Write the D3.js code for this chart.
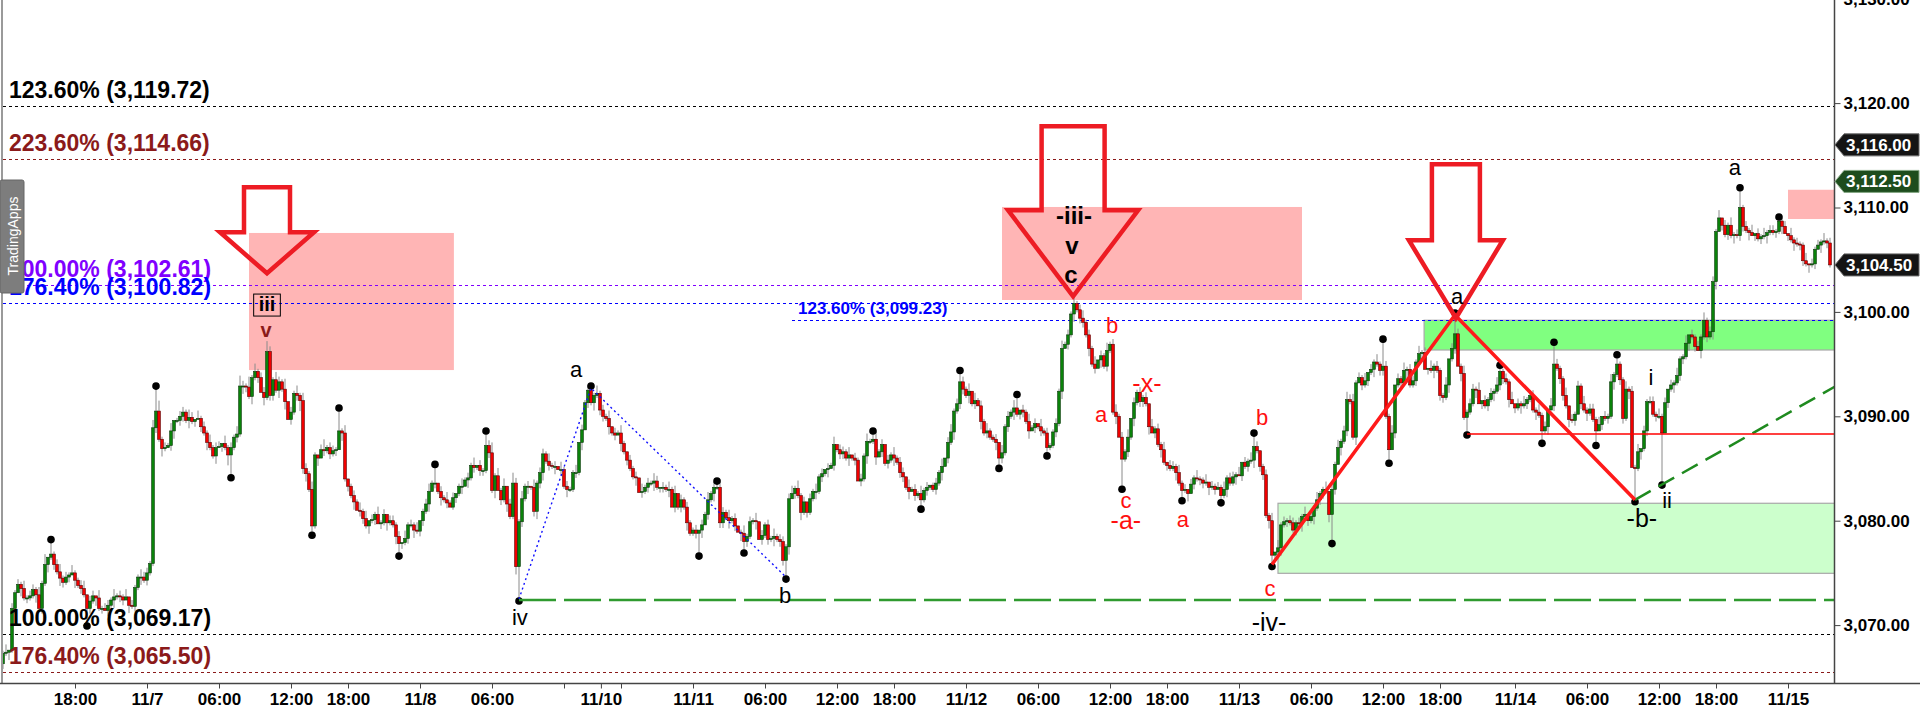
<!DOCTYPE html>
<html>
<head>
<meta charset="utf-8">
<script src="https://d3js.org/d3.v7.min.js"></script>
<style>
body { margin: 0; background: #fff; overflow: hidden; }
svg { display: block; font-family: "Liberation Sans", Arial, sans-serif; }
</style>
</head>
<body>
<svg id="chart" width="1920" height="710"></svg>
<script>
// 15 minute bars, 11/6 12:00 .. 11/15 03:45, closes
var firstOpen = 3066.3;
var closes = [
  3067.3, 3067.4, 3067.6, 3071.6, 3073.1, 3073.9, 3073.5, 3072.6, 3072.6, 3072.8,
  3073.4, 3072.9, 3071.6, 3074.0, 3075.8, 3076.5, 3076.8, 3075.8, 3075.1, 3074.5,
  3074.1, 3074.6, 3074.8, 3075.0, 3074.3, 3073.8, 3073.5, 3072.9, 3071.6, 3072.3,
  3072.8, 3072.6, 3071.6, 3071.6, 3071.4, 3071.9, 3072.4, 3072.7, 3072.8, 3072.7,
  3072.4, 3072.7, 3071.9, 3071.8, 3073.6, 3074.6, 3074.6, 3074.3, 3075.0, 3075.9,
  3088.9, 3090.5, 3087.8, 3086.9, 3087.0, 3087.2, 3088.6, 3089.6, 3089.6, 3090.0,
  3090.4, 3089.6, 3089.9, 3089.5, 3089.7, 3089.8, 3089.0, 3088.4, 3087.5, 3087.0,
  3086.2, 3087.0, 3087.1, 3087.4, 3087.0, 3086.3, 3087.0, 3088.0, 3088.3, 3092.9,
  3092.9, 3092.8, 3091.9, 3093.7, 3094.3, 3093.7, 3092.3, 3091.8, 3096.2, 3092.0,
  3093.5, 3092.5, 3093.3, 3092.6, 3091.4, 3089.7, 3090.4, 3092.2, 3092.0, 3091.5,
  3085.0, 3084.5, 3083.0, 3079.5, 3086.3, 3086.0, 3086.8, 3086.7, 3087.0, 3086.4,
  3086.7, 3086.8, 3088.6, 3088.4, 3084.0, 3083.3, 3082.4, 3081.8, 3081.0, 3080.9,
  3080.2, 3079.5, 3080.0, 3080.1, 3080.6, 3079.7, 3079.8, 3080.6, 3079.8, 3080.0,
  3079.6, 3078.5, 3077.8, 3077.9, 3078.3, 3079.6, 3079.6, 3079.1, 3079.0, 3080.0,
  3080.9, 3081.6, 3082.8, 3083.6, 3083.6, 3082.8, 3082.2, 3082.0, 3081.7, 3081.3,
  3082.2, 3082.6, 3083.3, 3083.3, 3083.9, 3084.1, 3085.3, 3085.1, 3085.3, 3084.8,
  3084.8, 3087.2, 3086.5, 3082.9, 3084.3, 3082.9, 3082.0, 3083.3, 3081.6, 3080.4,
  3083.6, 3075.6, 3079.9, 3082.1, 3083.3, 3083.3, 3083.2, 3080.9, 3083.6, 3084.6,
  3086.4, 3085.7, 3085.3, 3085.2, 3085.2, 3084.9, 3084.9, 3083.3, 3083.0, 3083.0,
  3084.6, 3084.6, 3087.5, 3088.7, 3091.3, 3092.5, 3091.3, 3092.0, 3092.2, 3090.6,
  3090.0, 3089.8, 3089.0, 3088.4, 3088.2, 3088.4, 3087.4, 3086.6, 3085.8, 3085.0,
  3084.2, 3084.1, 3082.7, 3082.8, 3083.2, 3083.6, 3083.6, 3083.8, 3083.2, 3083.2,
  3083.2, 3083.0, 3083.0, 3081.3, 3082.6, 3081.3, 3082.0, 3081.3, 3079.8, 3078.8,
  3079.1, 3078.8, 3079.1, 3079.6, 3080.6, 3082.0, 3082.6, 3083.2, 3083.2, 3079.8,
  3080.8, 3080.3, 3080.0, 3080.2, 3079.5, 3078.9, 3078.8, 3078.0, 3078.5, 3079.9,
  3080.0, 3079.9, 3078.2, 3078.6, 3079.6, 3078.2, 3078.3, 3078.5, 3078.2, 3078.0,
  3076.2, 3077.5, 3082.1, 3082.6, 3083.1, 3082.4, 3080.8, 3081.8, 3080.8, 3082.1,
  3082.8, 3082.8, 3084.2, 3084.5, 3084.9, 3085.0, 3085.3, 3087.3, 3086.8, 3086.4,
  3086.6, 3086.0, 3086.3, 3086.0, 3085.8, 3083.8, 3084.0, 3086.2, 3087.6, 3087.6,
  3087.8, 3086.1, 3086.6, 3087.3, 3085.5, 3085.8, 3086.3, 3086.0, 3085.6, 3084.6,
  3084.2, 3083.2, 3082.8, 3083.0, 3082.4, 3082.6, 3082.0, 3082.9, 3083.2, 3083.4,
  3083.0, 3083.6, 3084.6, 3085.2, 3086.0, 3087.5, 3088.5, 3090.5, 3091.2, 3093.3,
  3092.6, 3092.0, 3092.4, 3091.2, 3091.5, 3091.0, 3089.5, 3088.4, 3088.6, 3088.0,
  3087.8, 3087.5, 3086.0, 3086.5, 3089.0, 3090.0, 3090.4, 3090.8, 3090.2, 3090.6,
  3090.4, 3089.5, 3088.6, 3088.9, 3089.3, 3089.0, 3088.6, 3088.4, 3087.0, 3087.2,
  3088.5, 3089.3, 3092.4, 3096.5, 3096.9, 3097.8, 3099.8, 3100.8, 3100.2, 3099.4,
  3099.0, 3097.8, 3096.5, 3095.0, 3094.6, 3095.4, 3095.8, 3094.8, 3096.3, 3096.9,
  3090.4, 3090.0, 3088.0, 3085.9, 3086.6, 3088.0, 3089.8, 3091.3, 3092.3, 3091.4,
  3091.8, 3091.2, 3089.0, 3088.4, 3088.8, 3087.3, 3086.8, 3085.6, 3085.3, 3085.0,
  3085.2, 3084.6, 3083.6, 3082.9, 3083.0, 3082.6, 3083.5, 3084.1, 3084.0, 3083.9,
  3083.6, 3083.7, 3083.2, 3083.3, 3083.0, 3083.2, 3082.4, 3083.0, 3084.1, 3083.6,
  3084.2, 3084.4, 3084.3, 3085.6, 3085.2, 3085.7, 3085.8, 3087.1, 3086.7, 3085.2,
  3084.4, 3080.5, 3080.0, 3076.7, 3077.0, 3077.4, 3079.6, 3079.9, 3080.0, 3079.8,
  3079.1, 3079.8, 3079.7, 3080.4, 3080.6, 3080.0, 3080.4, 3081.2, 3082.0, 3082.6,
  3083.0, 3082.8, 3080.6, 3083.0, 3085.4, 3087.0, 3087.6, 3088.6, 3091.6, 3091.4,
  3088.0, 3093.2, 3093.7, 3093.0, 3093.4, 3094.2, 3094.5, 3095.2, 3095.0, 3094.4,
  3094.8, 3090.0, 3086.8, 3088.4, 3093.0, 3093.6, 3093.2, 3094.4, 3094.5, 3093.0,
  3093.4, 3095.2, 3096.0, 3096.1, 3094.5, 3094.6, 3094.4, 3094.8, 3094.4, 3092.0,
  3091.8, 3093.0, 3095.5, 3096.5, 3097.9, 3094.8, 3094.1, 3089.9, 3090.4, 3091.2,
  3092.6, 3092.5, 3091.2, 3091.5, 3091.0, 3091.6, 3092.2, 3092.4, 3093.0, 3094.3,
  3093.6, 3093.3, 3091.6, 3091.2, 3090.8, 3091.2, 3091.0, 3091.2, 3091.6, 3092.0,
  3090.6, 3090.4, 3090.1, 3088.6, 3089.0, 3090.6, 3091.0, 3095.0, 3094.6, 3093.6,
  3092.0, 3091.0, 3089.7, 3089.6, 3090.2, 3092.9, 3091.2, 3090.6, 3090.3, 3090.7,
  3089.7, 3088.6, 3089.2, 3090.0, 3089.8, 3090.0, 3093.3, 3094.0, 3095.0, 3093.5,
  3089.8, 3092.6, 3092.4, 3085.1, 3085.0, 3086.6, 3086.9, 3088.6, 3091.4, 3091.4,
  3090.2, 3090.0, 3090.0, 3088.4, 3091.3, 3092.6, 3093.0, 3093.2, 3093.9, 3095.5,
  3095.7, 3097.0, 3097.8, 3097.6, 3096.7, 3096.3, 3097.6, 3099.2, 3097.6, 3098.1,
  3102.9, 3107.7, 3109.0, 3108.3, 3107.4, 3108.3, 3107.3, 3107.4, 3107.3, 3110.0,
  3108.2, 3107.8, 3107.6, 3107.3, 3107.5, 3107.0, 3107.2, 3107.3, 3107.6, 3107.8,
  3107.6, 3107.7, 3108.7, 3108.2, 3107.5, 3107.3, 3106.9, 3106.6, 3106.5, 3106.4,
  3104.9, 3104.6, 3104.5, 3104.6, 3106.0, 3106.4, 3106.7, 3106.8, 3106.6, 3104.5
];
// wick lengths above / below the body, in quarter points, one character a bar
var wickUp = [
  "1302121312", "2131402123", "1213112302", "2031221312", "1302113221",
  "3241213012", "2132031213", "1220312134", "2141312242", "1321402131",
  "3213102412", "2121301213", "1302131202", "2120312130", "1231202131",
  "2013121302", "1224131302", "4213120312", "2131203121", "1302122131",
  "2130213102", "1203121320", "2131302121", "1202131223", "2131201312",
  "1302121312", "2123131202", "1312021302", "2130212131", "1312021312",
  "2031213120", "1213023121", "2130312131", "1203121320", "2131203121",
  "1213121312", "3121302131", "2312130212", "1203121302", "2131202131",
  "1302121312", "2130213120", "1213031212", "2121302131", "1302131232",
  "3121302131", "1213021312", "2131203121", "1302121312", "2130212131",
  "1213021312", "2131203121", "1302121312", "2130213121", "1312130212",
  "2131202131", "1302121312", "2130213121", "1213021312", "2131203121",
  "1302121312"
].join("");
var wickDn = [
  "2131203121", "1302131213", "2120312132", "1312021312", "2031213121",
  "1213102312", "2131202131", "1302143121", "3213120312", "2131302124",
  "2312130212", "1203121302", "2131202131", "1302121312", "2130213120",
  "1213031212", "2121302131", "1302131232", "3121302131", "1213021312",
  "2131203121", "1302121312", "2130212131", "1213021312", "2131203121",
  "1302121312", "2130213121", "1312130212", "2131202131", "1302121312",
  "2130213121", "1213021312", "2131203121", "1302121312", "2130212131",
  "1213021312", "2131203121", "1302121312", "2130213121", "1312130212",
  "2131202131", "1302121312", "2130213121", "1213021312", "2131203121",
  "1302121312", "2130212131", "1213021312", "2131203121", "1302121312",
  "2130213121", "1312130212", "2131202131", "1302121312", "2130213121",
  "1213021312", "2131203121", "3302121312", "2130212131", "1213021312",
  "2131203121"
].join("");

// swing points marked with a dot: [bar, price]
var swingHighs = [[16, 3078.0], [51, 3092.7], [112, 3090.6], [144, 3085.2], [161, 3088.4],
  [196, 3092.7], [238, 3083.6], [290, 3088.4], [319, 3094.2], [338, 3091.9], [417, 3088.2],
  [460, 3097.2], [484, 3099.7], [499, 3094.7], [517, 3096.9], [538, 3095.7], [579, 3111.7], [592, 3108.9]];
var swingLows = [[28, 3070.1], [76, 3084.3], [103, 3078.8], [132, 3076.8], [172, 3072.5],
  [232, 3076.8], [247, 3077.1], [261, 3074.6], [306, 3081.3], [332, 3085.2], [348, 3086.4],
  [373, 3083.2], [393, 3082.1], [406, 3081.9], [423, 3075.8], [443, 3078.0], [462, 3085.7],
  [488, 3088.4], [513, 3087.6], [531, 3087.4], [544, 3082.0], [553, 3083.6]];

var fibLevels = [
  ["123.60% (3,119.72)", 3119.72, "k"],
  ["223.60% (3,114.66)", 3114.66, "m"],
  ["100.00% (3,102.61)", 3102.61, "p"],
  ["176.40% (3,100.82)", 3100.82, "b"],
  ["100.00% (3,069.17)", 3069.17, "k"],
  ["176.40% (3,065.50)", 3065.50, "m"]
];
var fibShort = ["123.60% (3,099.23)", 3099.23, "b", 263];

// zones: [from bar, to bar, low price, high price, kind]
var zones = [
  [82, 150.3, 3094.43, 3107.56, "pink"],
  [333, 433, 3101.14, 3110.05, "pink"],
  [595, 611, 3108.9, 3111.7, "pink"],
  [473.7, 611, 3096.35, 3099.2, "lime"],
  [425, 611, 3074.96, 3081.67, "mint"]
];

var arrowTips = [[88, 3103.7], [356.7, 3101.5], [484.3, 3099.4]];

var redWave = [[423, 3075.8], [484, 3099.7], [544, 3082.0]];
var blueWave = [[172, 3072.5], [196, 3092.7], [261, 3074.6]];
var greenTrend = [[544, 3082.0], [611, 3092.9]];
var greenFlat = [[172, 3072.4], [611, 3072.4]];
var redFlat = [[488, 3088.3], [611, 3088.3]];

// [text, bar, baseline price, tone, style]
var waveLabels = [
  ["iii", 88, 3100.08, "k", "box"],
  ["v", 87.7, 3097.55, "m", "small"],
  ["a", 191, 3093.76, "k", ""],
  ["iv", 172.3, 3070.0, "k", ""],
  ["b", 260.7, 3072.1, "k", ""],
  ["-iii-", 357, 3108.4, "k", "bold"],
  ["v", 356.3, 3105.55, "k", "bold"],
  ["c", 356, 3102.77, "k", "bold"],
  ["b", 369.7, 3097.98, "r", ""],
  ["a", 366, 3089.45, "r", ""],
  ["-x-", 381.3, 3092.33, "r", "dash"],
  ["c", 374.3, 3081.22, "r", ""],
  ["-a-", 374.3, 3079.19, "r", "dash"],
  ["a", 393.3, 3079.39, "r", ""],
  ["b", 419.7, 3089.17, "r", ""],
  ["c", 422.3, 3072.79, "r", ""],
  ["-iv-", 422, 3069.43, "k", "dash"],
  ["a", 484.7, 3100.76, "k", ""],
  ["-b-", 546.3, 3079.39, "k", "dash"],
  ["ii", 554.7, 3081.21, "k", ""],
  ["i", 549.3, 3093.0, "k", ""],
  ["a", 577.3, 3113.11, "k", ""]
];

var timeTicks = [[24, "18:00"], [48, "11/7"], [72, "06:00"], [96, "12:00"], [115, "18:00"],
  [139, "11/8"], [163, "06:00"], [187, ""], [199.3, "11/10"], [206, ""], [230, "11/11"],
  [254, "06:00"], [278, "12:00"], [297, "18:00"], [321, "11/12"], [345, "06:00"],
  [369, "12:00"], [388, "18:00"], [412, "11/13"], [436, "06:00"], [460, "12:00"],
  [479, "18:00"], [504, "11/14"], [528, "06:00"], [552, "12:00"], [571, "18:00"], [595, "11/15"]];
var priceTicks = [3070, 3080, 3090, 3100, 3110, 3120, 3130];
var priceTags = [[3116.0, "dark"], [3112.5, "green"], [3104.5, "dark"]];

var tones = { k: "#000000", m: "#8b1a1a", p: "#8000ff", b: "#0000ff", r: "#ff1010" };

var svg = d3.select("#chart");
var plotRight = 1834, plotBottom = 683;

var x = d3.scaleLinear().domain([0, closes.length - 1]).range([3, 3 + 3 * (closes.length - 1)]);
var y = d3.scaleLinear().domain([3070, 3120]).range([625.1, 103.1]);

svg.append("rect").attr("width", 1920).attr("height", 710).attr("fill", "#fff");

svg.append("defs").append("clipPath").attr("id", "plot")
  .append("rect").attr("x", 3).attr("y", 0).attr("width", plotRight - 3).attr("height", plotBottom);

var g = svg.append("g").attr("clip-path", "url(#plot)");

// zones
var zoneFill = { pink: "#ffb5b5", lime: "#80ff80", mint: "#ccffcc" };
g.selectAll(".zone").data(zones).enter().append("rect")
  .attr("x", function(d) { return x(d[0]); })
  .attr("y", function(d) { return y(d[3]); })
  .attr("width", function(d) { return x(d[1]) - x(d[0]); })
  .attr("height", function(d) { return y(d[2]) - y(d[3]); })
  .attr("fill", function(d) { return zoneFill[d[4]]; })
  .attr("stroke", function(d) { return d[4] == "pink" ? "none" : "#a8a8a8"; })
  .attr("stroke-width", 1.2);

// fib lines
g.selectAll(".fib").data(fibLevels).enter().append("line")
  .attr("x1", 3).attr("x2", plotRight)
  .attr("y1", function(d) { return Math.round(y(d[1])) + 0.5; })
  .attr("y2", function(d) { return Math.round(y(d[1])) + 0.5; })
  .attr("stroke", function(d) { return tones[d[2]]; })
  .attr("stroke-width", 1.2)
  .attr("stroke-dasharray", "3,3");
g.append("line")
  .attr("x1", x(fibShort[3])).attr("x2", plotRight)
  .attr("y1", Math.round(y(fibShort[1])) + 0.5).attr("y2", Math.round(y(fibShort[1])) + 0.5)
  .attr("stroke", tones[fibShort[2]]).attr("stroke-width", 1.2).attr("stroke-dasharray", "3,3");

// candles
var bars = closes.map(function(c, i) {
  var o = i == 0 ? firstOpen : closes[i - 1];
  var hi = Math.max(o, c) + (parseInt(wickUp[i] || "1", 36)) * 0.25;
  var lo = Math.min(o, c) - (parseInt(wickDn[i] || "1", 36)) * 0.25;
  return { i: i, o: o, c: c, h: hi, l: lo };
});
swingHighs.forEach(function(s) { if (bars[s[0]]) bars[s[0]].h = Math.max(s[1], Math.max(bars[s[0]].o, bars[s[0]].c)); });
swingLows.forEach(function(s) { if (bars[s[0]]) bars[s[0]].l = Math.min(s[1], Math.min(bars[s[0]].o, bars[s[0]].c)); });

var cg = g.append("g");
cg.selectAll(".wick").data(bars).enter().append("line")
  .attr("x1", function(d) { return x(d.i); })
  .attr("x2", function(d) { return x(d.i); })
  .attr("y1", function(d) { return y(d.h); })
  .attr("y2", function(d) { return y(d.l); })
  .attr("stroke", "#8a8a8a").attr("stroke-width", 1);
cg.selectAll(".body").data(bars).enter().append("rect")
  .attr("x", function(d) { return x(d.i) - 1.4; })
  .attr("width", 2.8)
  .attr("y", function(d) { return y(Math.max(d.o, d.c)); })
  .attr("height", function(d) { return Math.max(1, Math.abs(y(d.o) - y(d.c))); })
  .attr("fill", function(d) { return d.c >= d.o ? "#0a820a" : "#f00000"; })
  .attr("stroke", function(d) { return d.c >= d.o ? "#0b3a0b" : "#5a0000"; })
  .attr("stroke-width", 0.6);

// swing dots
g.selectAll(".hdot").data(swingHighs).enter().append("circle")
  .attr("cx", function(d) { return x(d[0]); })
  .attr("cy", function(d) { return y(d[1]) - 2; })
  .attr("r", 3.8).attr("fill", "#000");
g.selectAll(".ldot").data(swingLows).enter().append("circle")
  .attr("cx", function(d) { return x(d[0]); })
  .attr("cy", function(d) { return y(d[1]) + 2; })
  .attr("r", 3.8).attr("fill", "#000");

var line = d3.line().x(function(d) { return x(d[0]); }).y(function(d) { return y(d[1]); });

g.append("path").attr("d", line(blueWave)).attr("fill", "none")
  .attr("stroke", "#1010ff").attr("stroke-width", 1.4).attr("stroke-dasharray", "2,3");
g.append("path").attr("d", line(greenFlat)).attr("fill", "none")
  .attr("stroke", "#2f9a2f").attr("stroke-width", 2.5).attr("stroke-dasharray", "37,8");
g.append("path").attr("d", line(greenTrend)).attr("fill", "none")
  .attr("stroke", "#1f8a1f").attr("stroke-width", 2.5).attr("stroke-dasharray", "18,9");
g.append("path").attr("d", line(redFlat)).attr("fill", "none")
  .attr("stroke", "#ff0000").attr("stroke-width", 1.5);
g.append("path").attr("d", line(redWave)).attr("fill", "none")
  .attr("stroke", "#ff1a1a").attr("stroke-width", 3.5).attr("stroke-linejoin", "miter");

// outline arrows pointing down at the tip
var arrowSize = [
  { shaft: 23, head: 47, headH: 41, total: 86 },
  { shaft: 31.5, head: 65, headH: 86, total: 170 },
  { shaft: 24, head: 47, headH: 78, total: 154 }
];
g.selectAll(".arrow").data(arrowTips).enter().append("polygon")
  .attr("points", function(d, k) {
    var s = arrowSize[k], tx = x(d[0]), ty = y(d[1]);
    return [[tx - s.shaft, ty - s.total], [tx + s.shaft, ty - s.total], [tx + s.shaft, ty - s.headH],
            [tx + s.head, ty - s.headH], [tx, ty], [tx - s.head, ty - s.headH], [tx - s.shaft, ty - s.headH]]
      .map(function(p) { return p.join(","); }).join(" ");
  })
  .attr("fill", "none").attr("stroke", "#ed1c24").attr("stroke-width", 4.5).attr("stroke-linejoin", "miter");

// wave labels
var labelSize = { "": 22, bold: 24, box: 20, dash: 25, small: 20 };
var lbl = g.selectAll(".wave").data(waveLabels).enter().append("text")
  .attr("x", function(d) { return x(d[1]); })
  .attr("y", function(d) { return y(d[2]); })
  .attr("text-anchor", "middle")
  .attr("font-size", function(d) { return labelSize[d[4]]; })
  .attr("font-weight", function(d) { return d[4] == "" || d[4] == "dash" ? "normal" : "bold"; })
  .attr("fill", function(d) { return tones[d[3]]; })
  .text(function(d) { return d[0]; });
lbl.filter(function(d) { return d[4] == "box"; }).each(function() {
  var b = this.getBBox();
  g.append("rect").attr("x", b.x - 5).attr("y", b.y + 1).attr("width", b.width + 10).attr("height", b.height)
    .attr("fill", "none").attr("stroke", "#000").attr("stroke-width", 1);
});

// fib labels
svg.selectAll(".fibLabel").data(fibLevels).enter().append("text")
  .attr("x", 9)
  .attr("y", function(d) { return y(d[1]) - 8; })
  .attr("font-size", 23).attr("font-weight", "bold")
  .attr("fill", function(d) { return tones[d[2]]; })
  .text(function(d) { return d[0]; });
svg.append("text")
  .attr("x", x(fibShort[3]) + 6).attr("y", y(fibShort[1]) - 6)
  .attr("font-size", 17).attr("font-weight", "bold")
  .attr("fill", tones[fibShort[2]]).text(fibShort[0]);

// frame
svg.append("line").attr("x1", 2).attr("x2", 2).attr("y1", 0).attr("y2", plotBottom)
  .attr("stroke", "#9a9a9a").attr("stroke-width", 2);
svg.append("line").attr("x1", plotRight + 0.5).attr("x2", plotRight + 0.5).attr("y1", 0).attr("y2", plotBottom)
  .attr("stroke", "#444").attr("stroke-width", 1.5);
svg.append("line").attr("x1", 0).attr("x2", 1920).attr("y1", plotBottom + 0.5).attr("y2", plotBottom + 0.5)
  .attr("stroke", "#444").attr("stroke-width", 1.5);

// time axis
var tickLabel = {};
timeTicks.forEach(function(t) { tickLabel[t[0]] = t[1]; });
var xAxis = svg.append("g").attr("transform", "translate(0," + (plotBottom + 0.5) + ")")
  .call(d3.axisBottom(x).tickValues(timeTicks.map(function(t) { return t[0]; }))
    .tickFormat(function(v) { return tickLabel[v]; }).tickSize(5).tickPadding(4));
xAxis.select(".domain").remove();
xAxis.selectAll("line").attr("stroke", "#444");
xAxis.selectAll("text").attr("font-size", 17).attr("font-weight", "bold")
  .attr("font-family", "'Liberation Sans', Arial, sans-serif").attr("fill", "#000");

// price axis
var yAxis = svg.append("g").attr("transform", "translate(" + (plotRight + 0.5) + ",0)")
  .call(d3.axisRight(y).tickValues(priceTicks).tickFormat(d3.format(",.2f")).tickSize(6).tickPadding(3));
yAxis.select(".domain").remove();
yAxis.selectAll("line").attr("stroke", "#444");
yAxis.selectAll("text").attr("font-size", 17).attr("font-weight", "bold")
  .attr("font-family", "'Liberation Sans', Arial, sans-serif").attr("fill", "#000");

// price tags
var tagFill = { dark: "#141414", green: "#1d4d1d" };
var tags = svg.selectAll(".tag").data(priceTags).enter().append("g")
  .attr("transform", function(d) { return "translate(" + (plotRight + 1) + "," + y(d[0]) + ")"; });
tags.append("path")
  .attr("d", "M0,0 L9,-11 L84,-11 L84,11 L9,11 Z")
  .attr("fill", function(d) { return tagFill[d[1]]; })
  .attr("stroke", function(d) { return d[1] == "green" ? "#86a886" : "#666"; })
  .attr("stroke-width", 1);
tags.append("text").attr("x", 11).attr("y", 6)
  .attr("font-size", 17).attr("font-weight", "bold").attr("fill", "#fff")
  .text(function(d) { return d3.format(",.2f")(d[0]); });

// side tab
svg.append("rect").attr("x", 0).attr("y", 180).attr("width", 24).attr("height", 113)
  .attr("rx", 2).attr("fill", "#7d7d7d").attr("stroke", "#666");
svg.append("text").attr("transform", "translate(18,236) rotate(-90)")
  .attr("text-anchor", "middle").attr("font-size", 14).attr("fill", "#fff")
  .text("TradingApps");
</script>
</body>
</html>
